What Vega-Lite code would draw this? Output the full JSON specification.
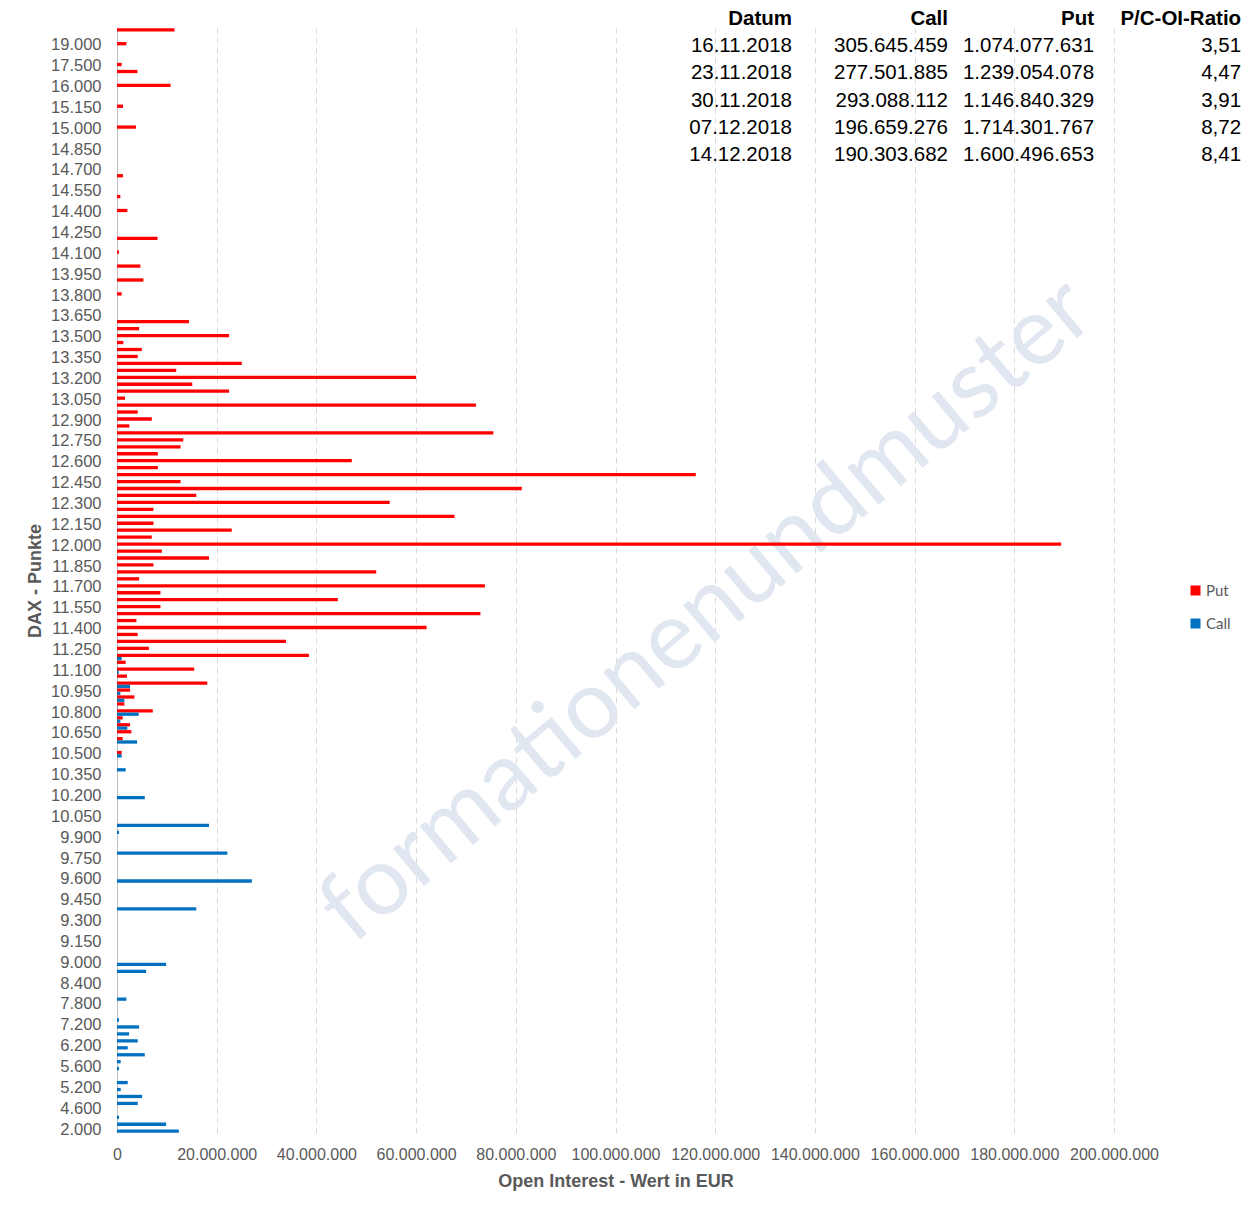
{
  "$schema": "https://vega.github.io/schema/vega-lite/v6.json",
  "width": 997,
  "height": 1105,
  "autosize": {"type": "none"},
  "padding": {"left": 117, "top": 28, "right": 135, "bottom": 75},
  "background": "white",
  "config": {
    "locale": {"number": {"decimal": ",", "thousands": ".", "grouping": [3], "currency": ["", " €"]}},
    "view": {"stroke": null},
    "font": "Liberation Sans"
  },
  "resolve": {"scale": {"y": "independent"}},
  "layer": [
    {
      "data": {"values": [{"w": "formationenundmuster"}]},
      "mark": {"type": "text", "align": "center", "baseline": "middle", "angle": -40, "font": "Lato", "fontSize": 96, "fill": "#e1e7f0", "dx": -41, "dy": 5},
      "encoding": {
        "x": {"datum": 124000000, "type": "quantitative", "scale": {"domain": [0, 200000000]}},
        "text": {"field": "w", "type": "nominal"}
      }
    },
    {
      "encoding": {
        "y": {"field": "row", "type": "quantitative", "scale": {"domain": [0.33, 40.95], "reverse": true}, "axis": null}
      },
      "layer": [
        {
          "data": {"values": [{"Datum": "Datum", "Call": "Call", "Put": "Put", "Ratio": "P/C-OI-Ratio", "row": 0}]},
          "layer": [
            {"mark": {"type": "text", "align": "right", "baseline": "middle", "fontSize": 20.5, "fontWeight": "bold", "color": "#000000"},
             "encoding": {"x": {"datum": 135400000, "type": "quantitative"}, "text": {"field": "Datum"}}},
            {"mark": {"type": "text", "align": "right", "baseline": "middle", "fontSize": 20.5, "fontWeight": "bold", "color": "#000000"},
             "encoding": {"x": {"datum": 166700000, "type": "quantitative"}, "text": {"field": "Call"}}},
            {"mark": {"type": "text", "align": "right", "baseline": "middle", "fontSize": 20.5, "fontWeight": "bold", "color": "#000000"},
             "encoding": {"x": {"datum": 196000000, "type": "quantitative"}, "text": {"field": "Put"}}},
            {"mark": {"type": "text", "align": "right", "baseline": "middle", "fontSize": 20.5, "fontWeight": "bold", "color": "#000000"},
             "encoding": {"x": {"datum": 225500000, "type": "quantitative"}, "text": {"field": "Ratio"}}}
          ]
        },
        {
          "data": {"values": [
            {"Datum": "16.11.2018", "Call": 305645459, "Put": 1074077631, "Ratio": 3.51, "row": 1},
            {"Datum": "23.11.2018", "Call": 277501885, "Put": 1239054078, "Ratio": 4.47, "row": 2},
            {"Datum": "30.11.2018", "Call": 293088112, "Put": 1146840329, "Ratio": 3.91, "row": 3},
            {"Datum": "07.12.2018", "Call": 196659276, "Put": 1714301767, "Ratio": 8.72, "row": 4},
            {"Datum": "14.12.2018", "Call": 190303682, "Put": 1600496653, "Ratio": 8.41, "row": 5}
          ]},
          "layer": [
            {"mark": {"type": "text", "align": "right", "baseline": "middle", "fontSize": 20.5, "color": "#000000"},
             "encoding": {"x": {"datum": 135400000, "type": "quantitative"}, "text": {"field": "Datum"}}},
            {"mark": {"type": "text", "align": "right", "baseline": "middle", "fontSize": 20.5, "color": "#000000"},
             "encoding": {"x": {"datum": 166700000, "type": "quantitative"}, "text": {"field": "Call", "type": "quantitative", "format": ",d"}}},
            {"mark": {"type": "text", "align": "right", "baseline": "middle", "fontSize": 20.5, "color": "#000000"},
             "encoding": {"x": {"datum": 196000000, "type": "quantitative"}, "text": {"field": "Put", "type": "quantitative", "format": ",d"}}},
            {"mark": {"type": "text", "align": "right", "baseline": "middle", "fontSize": 20.5, "color": "#000000"},
             "encoding": {"x": {"datum": 225500000, "type": "quantitative"}, "text": {"field": "Ratio", "type": "quantitative", "format": ".2f"}}}
          ]
        }
      ]
    },
    {
      "data": {"values": [
        {"Strike": "20.000", "Put": 11540000, "Call": 0},
        {"Strike": "19.500", "Put": 0, "Call": 0},
        {"Strike": "19.000", "Put": 1880000, "Call": 0},
        {"Strike": "18.500", "Put": 0, "Call": 0},
        {"Strike": "18.000", "Put": 0, "Call": 0},
        {"Strike": "17.500", "Put": 940000, "Call": 0},
        {"Strike": "17.000", "Put": 4090000, "Call": 0},
        {"Strike": "16.500", "Put": 0, "Call": 0},
        {"Strike": "16.000", "Put": 10740000, "Call": 0},
        {"Strike": "15.800", "Put": 0, "Call": 0},
        {"Strike": "15.500", "Put": 0, "Call": 0},
        {"Strike": "15.150", "Put": 1210000, "Call": 0},
        {"Strike": "15.100", "Put": 0, "Call": 0},
        {"Strike": "15.050", "Put": 0, "Call": 0},
        {"Strike": "15.000", "Put": 3820000, "Call": 0},
        {"Strike": "14.950", "Put": 0, "Call": 0},
        {"Strike": "14.900", "Put": 0, "Call": 0},
        {"Strike": "14.850", "Put": 0, "Call": 0},
        {"Strike": "14.800", "Put": 0, "Call": 0},
        {"Strike": "14.750", "Put": 0, "Call": 0},
        {"Strike": "14.700", "Put": 0, "Call": 0},
        {"Strike": "14.650", "Put": 1210000, "Call": 0},
        {"Strike": "14.600", "Put": 0, "Call": 0},
        {"Strike": "14.550", "Put": 0, "Call": 0},
        {"Strike": "14.500", "Put": 670000, "Call": 0},
        {"Strike": "14.450", "Put": 0, "Call": 0},
        {"Strike": "14.400", "Put": 2080000, "Call": 0},
        {"Strike": "14.350", "Put": 0, "Call": 0},
        {"Strike": "14.300", "Put": 0, "Call": 0},
        {"Strike": "14.250", "Put": 0, "Call": 0},
        {"Strike": "14.200", "Put": 8120000, "Call": 0},
        {"Strike": "14.150", "Put": 0, "Call": 0},
        {"Strike": "14.100", "Put": 400000, "Call": 0},
        {"Strike": "14.050", "Put": 0, "Call": 0},
        {"Strike": "14.000", "Put": 4700000, "Call": 0},
        {"Strike": "13.950", "Put": 0, "Call": 0},
        {"Strike": "13.900", "Put": 5300000, "Call": 0},
        {"Strike": "13.850", "Put": 0, "Call": 0},
        {"Strike": "13.800", "Put": 940000, "Call": 0},
        {"Strike": "13.750", "Put": 0, "Call": 0},
        {"Strike": "13.700", "Put": 0, "Call": 0},
        {"Strike": "13.650", "Put": 0, "Call": 0},
        {"Strike": "13.600", "Put": 14430000, "Call": 0},
        {"Strike": "13.550", "Put": 4430000, "Call": 0},
        {"Strike": "13.500", "Put": 22480000, "Call": 0},
        {"Strike": "13.450", "Put": 1280000, "Call": 0},
        {"Strike": "13.400", "Put": 4970000, "Call": 0},
        {"Strike": "13.350", "Put": 4160000, "Call": 0},
        {"Strike": "13.300", "Put": 25030000, "Call": 0},
        {"Strike": "13.250", "Put": 11880000, "Call": 0},
        {"Strike": "13.200", "Put": 60000000, "Call": 0},
        {"Strike": "13.150", "Put": 15100000, "Call": 0},
        {"Strike": "13.100", "Put": 22480000, "Call": 0},
        {"Strike": "13.050", "Put": 1610000, "Call": 0},
        {"Strike": "13.000", "Put": 72000000, "Call": 0},
        {"Strike": "12.950", "Put": 4160000, "Call": 0},
        {"Strike": "12.900", "Put": 6980000, "Call": 0},
        {"Strike": "12.850", "Put": 2480000, "Call": 0},
        {"Strike": "12.800", "Put": 75500000, "Call": 0},
        {"Strike": "12.750", "Put": 13290000, "Call": 0},
        {"Strike": "12.700", "Put": 12750000, "Call": 0},
        {"Strike": "12.650", "Put": 8190000, "Call": 0},
        {"Strike": "12.600", "Put": 47100000, "Call": 0},
        {"Strike": "12.550", "Put": 8190000, "Call": 0},
        {"Strike": "12.500", "Put": 116100000, "Call": 0},
        {"Strike": "12.450", "Put": 12750000, "Call": 0},
        {"Strike": "12.400", "Put": 81200000, "Call": 0},
        {"Strike": "12.350", "Put": 15900000, "Call": 0},
        {"Strike": "12.300", "Put": 54700000, "Call": 0},
        {"Strike": "12.250", "Put": 7310000, "Call": 0},
        {"Strike": "12.200", "Put": 67700000, "Call": 0},
        {"Strike": "12.150", "Put": 7310000, "Call": 0},
        {"Strike": "12.100", "Put": 23020000, "Call": 0},
        {"Strike": "12.050", "Put": 6980000, "Call": 0},
        {"Strike": "12.000", "Put": 189400000, "Call": 0},
        {"Strike": "11.950", "Put": 8990000, "Call": 0},
        {"Strike": "11.900", "Put": 18450000, "Call": 0},
        {"Strike": "11.850", "Put": 7310000, "Call": 0},
        {"Strike": "11.800", "Put": 52000000, "Call": 0},
        {"Strike": "11.750", "Put": 4430000, "Call": 0},
        {"Strike": "11.700", "Put": 73800000, "Call": 0},
        {"Strike": "11.650", "Put": 8720000, "Call": 0},
        {"Strike": "11.600", "Put": 44300000, "Call": 0},
        {"Strike": "11.550", "Put": 8720000, "Call": 0},
        {"Strike": "11.500", "Put": 72900000, "Call": 0},
        {"Strike": "11.450", "Put": 3890000, "Call": 0},
        {"Strike": "11.400", "Put": 62100000, "Call": 0},
        {"Strike": "11.350", "Put": 4160000, "Call": 0},
        {"Strike": "11.300", "Put": 33900000, "Call": 0},
        {"Strike": "11.250", "Put": 6400000, "Call": 0},
        {"Strike": "11.200", "Put": 38500000, "Call": 940000},
        {"Strike": "11.150", "Put": 1740000, "Call": 0},
        {"Strike": "11.100", "Put": 15500000, "Call": 340000},
        {"Strike": "11.050", "Put": 2000000, "Call": 0},
        {"Strike": "11.000", "Put": 18100000, "Call": 2620000},
        {"Strike": "10.950", "Put": 2620000, "Call": 670000},
        {"Strike": "10.900", "Put": 3490000, "Call": 1480000},
        {"Strike": "10.850", "Put": 1480000, "Call": 100000},
        {"Strike": "10.800", "Put": 7180000, "Call": 4360000},
        {"Strike": "10.750", "Put": 1140000, "Call": 670000},
        {"Strike": "10.700", "Put": 2620000, "Call": 2080000},
        {"Strike": "10.650", "Put": 2890000, "Call": 0},
        {"Strike": "10.600", "Put": 1140000, "Call": 4030000},
        {"Strike": "10.550", "Put": 0, "Call": 0},
        {"Strike": "10.500", "Put": 940000, "Call": 940000},
        {"Strike": "10.450", "Put": 0, "Call": 0},
        {"Strike": "10.400", "Put": 0, "Call": 1740000},
        {"Strike": "10.350", "Put": 0, "Call": 0},
        {"Strike": "10.300", "Put": 0, "Call": 0},
        {"Strike": "10.250", "Put": 0, "Call": 0},
        {"Strike": "10.200", "Put": 0, "Call": 5570000},
        {"Strike": "10.150", "Put": 0, "Call": 0},
        {"Strike": "10.100", "Put": 0, "Call": 0},
        {"Strike": "10.050", "Put": 0, "Call": 0},
        {"Strike": "10.000", "Put": 0, "Call": 18450000},
        {"Strike": "9.950", "Put": 0, "Call": 400000},
        {"Strike": "9.900", "Put": 0, "Call": 0},
        {"Strike": "9.850", "Put": 0, "Call": 0},
        {"Strike": "9.800", "Put": 0, "Call": 22140000},
        {"Strike": "9.750", "Put": 0, "Call": 0},
        {"Strike": "9.700", "Put": 0, "Call": 0},
        {"Strike": "9.650", "Put": 0, "Call": 0},
        {"Strike": "9.600", "Put": 0, "Call": 27040000},
        {"Strike": "9.550", "Put": 0, "Call": 0},
        {"Strike": "9.500", "Put": 0, "Call": 0},
        {"Strike": "9.450", "Put": 0, "Call": 0},
        {"Strike": "9.400", "Put": 0, "Call": 15900000},
        {"Strike": "9.350", "Put": 0, "Call": 0},
        {"Strike": "9.300", "Put": 0, "Call": 0},
        {"Strike": "9.250", "Put": 0, "Call": 0},
        {"Strike": "9.200", "Put": 0, "Call": 0},
        {"Strike": "9.150", "Put": 0, "Call": 0},
        {"Strike": "9.100", "Put": 0, "Call": 0},
        {"Strike": "9.050", "Put": 0, "Call": 0},
        {"Strike": "9.000", "Put": 0, "Call": 9860000},
        {"Strike": "8.800", "Put": 0, "Call": 5840000},
        {"Strike": "8.600", "Put": 0, "Call": 0},
        {"Strike": "8.400", "Put": 0, "Call": 0},
        {"Strike": "8.200", "Put": 0, "Call": 0},
        {"Strike": "8.000", "Put": 0, "Call": 1880000},
        {"Strike": "7.800", "Put": 0, "Call": 0},
        {"Strike": "7.600", "Put": 0, "Call": 0},
        {"Strike": "7.400", "Put": 0, "Call": 400000},
        {"Strike": "7.200", "Put": 0, "Call": 4430000},
        {"Strike": "6.800", "Put": 0, "Call": 2420000},
        {"Strike": "6.400", "Put": 0, "Call": 4160000},
        {"Strike": "6.200", "Put": 0, "Call": 2150000},
        {"Strike": "6.000", "Put": 0, "Call": 5570000},
        {"Strike": "5.800", "Put": 0, "Call": 740000},
        {"Strike": "5.600", "Put": 0, "Call": 400000},
        {"Strike": "5.500", "Put": 0, "Call": 0},
        {"Strike": "5.400", "Put": 0, "Call": 2150000},
        {"Strike": "5.200", "Put": 0, "Call": 740000},
        {"Strike": "5.000", "Put": 0, "Call": 5030000},
        {"Strike": "4.800", "Put": 0, "Call": 4160000},
        {"Strike": "4.600", "Put": 0, "Call": 0},
        {"Strike": "4.000", "Put": 0, "Call": 400000},
        {"Strike": "3.000", "Put": 0, "Call": 9860000},
        {"Strike": "2.000", "Put": 0, "Call": 12410000}
      ]},
      "transform": [{"fold": ["Put", "Call"], "as": ["series", "value"]}],
      "mark": {"type": "bar"},
      "encoding": {
        "y": {
          "field": "Strike", "type": "nominal", "sort": null,
          "scale": {"paddingInner": 0.05, "paddingOuter": 0.02},
          "axis": {
            "values": ["19.000","17.500","16.000","15.150","15.000","14.850","14.700","14.550","14.400","14.250","14.100","13.950","13.800","13.650","13.500","13.350","13.200","13.050","12.900","12.750","12.600","12.450","12.300","12.150","12.000","11.850","11.700","11.550","11.400","11.250","11.100","10.950","10.800","10.650","10.500","10.350","10.200","10.050","9.900","9.750","9.600","9.450","9.300","9.150","9.000","8.400","7.800","7.200","6.200","5.600","5.200","4.600","2.000"],
            "title": "DAX - Punkte",
            "titleFont": "Liberation Sans", "titleFontSize": 18, "titleFontWeight": "bold", "titleColor": "#595959", "titlePadding": 6,
            "labelFont": "Liberation Sans", "labelFontSize": 16.5, "labelColor": "#595959", "labelPadding": 16,
            "ticks": false, "tickSize": 0, "domainColor": "#bfbfbf", "grid": false, "labelOverlap": false
          }
        },
        "yOffset": {"field": "series", "type": "nominal", "sort": ["Put", "Call"], "scale": {"paddingInner": 0, "paddingOuter": 0}},
        "x": {
          "field": "value", "type": "quantitative",
          "scale": {"domain": [0, 200000000]},
          "axis": {
            "values": [0, 20000000, 40000000, 60000000, 80000000, 100000000, 120000000, 140000000, 160000000, 180000000, 200000000],
            "format": ",d",
            "title": "Open Interest - Wert in EUR",
            "titleFont": "Liberation Sans", "titleFontSize": 18, "titleFontWeight": "bold", "titleColor": "#595959", "titlePadding": 10,
            "labelFont": "Liberation Sans", "labelFontSize": 16, "labelColor": "#595959", "labelPadding": 13,
            "ticks": false, "tickSize": 0, "domain": false,
            "grid": true, "gridColor": "#d9d9d9", "gridDash": [6, 4], "labelOverlap": false, "labelFlush": false
          }
        },
        "color": {
          "field": "series", "type": "nominal",
          "scale": {"domain": ["Put", "Call"], "range": ["#ff0000", "#0070c0"]},
          "legend": {
            "title": null, "orient": "none", "legendX": 1071, "legendY": 555,
            "symbolType": "square", "symbolSize": 100, "symbolStrokeWidth": 0,
            "labelFont": "Lato", "labelFontSize": 15, "labelColor": "#595959",
            "rowPadding": 17, "labelOffset": 3
          }
        }
      }
    }
  ]
}
